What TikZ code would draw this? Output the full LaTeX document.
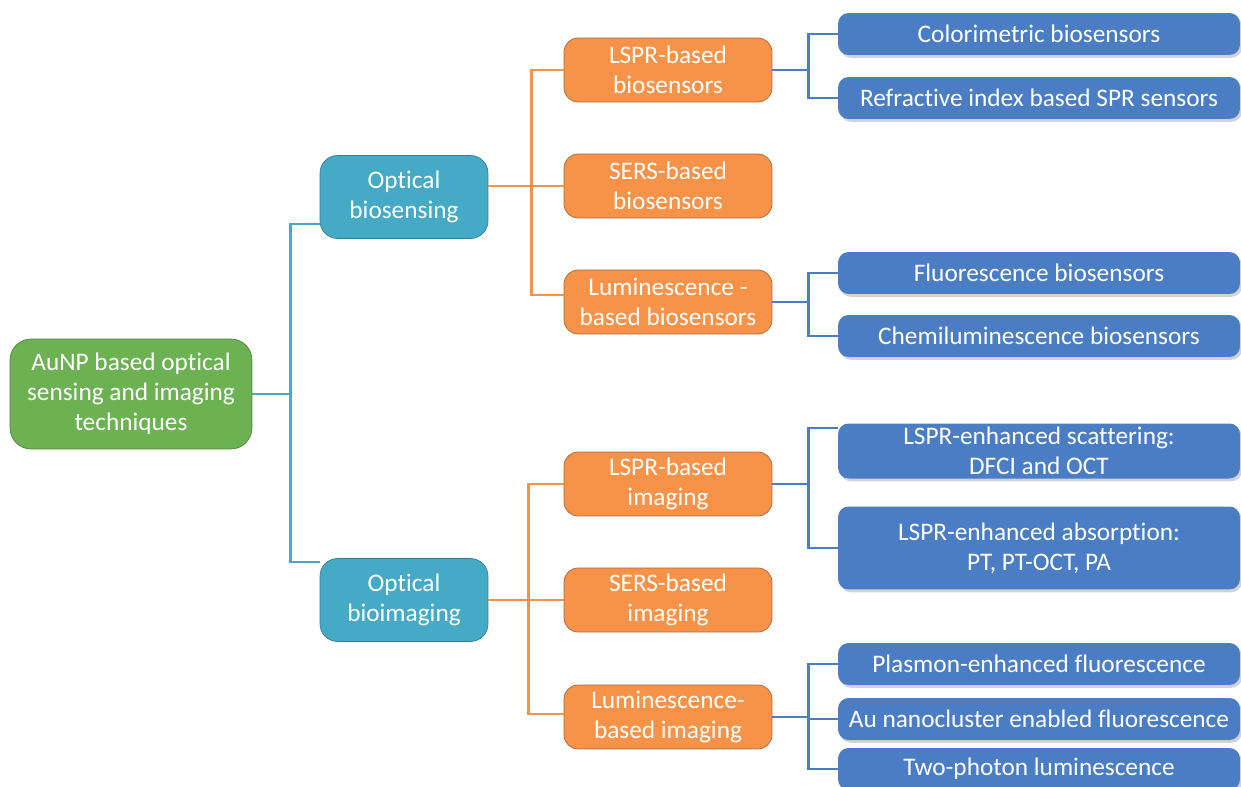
\documentclass[tikz,border=0pt]{standalone}
\usepackage{fontspec}
\setmainfont{Carlito}[Ligatures=NoCommon]
\usetikzlibrary{shadows}

\definecolor{rootgreen}{RGB}{108,177,82}
\definecolor{optcyan}{RGB}{68,170,198}
\definecolor{subor}{RGB}{246,147,73}
\definecolor{leafblue}{RGB}{74,125,196}

\tikzset{
  box/.style={text=white, align=center, inner sep=2pt, font=\fontsize{14.4}{17.2}\selectfont},
  rootbox/.style={box, fill=rootgreen, draw=rootgreen!75!black, rounded corners=12pt,
    minimum width=4.84cm, minimum height=2.2cm},
  optbox/.style={box, fill=optcyan, draw=optcyan!75!black, rounded corners=10pt,
    minimum width=3.36cm, minimum height=1.66cm},
  subbox/.style={box, fill=subor, draw=subor!70!black, rounded corners=8pt,
    minimum width=4.16cm, minimum height=1.28cm},
  leafbox/.style={box, fill=leafblue, rounded corners=6pt, minimum width=8.04cm,
    minimum height=0.84cm, drop shadow={shadow xshift=1.2pt, shadow yshift=-1.6pt, opacity=0.35}},
  lnC/.style={draw=optcyan, line width=1.5pt},
  lnO/.style={draw=subor, line width=1.5pt},
  lnB/.style={draw=leafblue, line width=1.5pt},
}

\begin{document}
\begin{tikzpicture}[x=0.02cm,y=-0.02cm]
\useasboundingbox (0,0) rectangle (1241,787);

\node[rootbox] (root) at (131,394) {AuNP based optical\\sensing and imaging\\techniques};

\node[optbox] (bsens) at (404,197) {Optical\\biosensing};
\node[optbox] (bimag) at (404,600) {Optical\\bioimaging};

\node[subbox] (lsprS) at (668,70) {LSPR-based\\biosensors};
\node[subbox] (sersS) at (668,186) {SERS-based\\biosensors};
\node[subbox] (lumS) at (668,302) {Luminescence -\\based biosensors};
\node[subbox] (lsprI) at (668,484) {LSPR-based\\imaging};
\node[subbox] (sersI) at (668,600) {SERS-based\\imaging};
\node[subbox] (lumI) at (668,717) {Luminescence-\\based imaging};

\node[leafbox] (colo) at (1039,34) {Colorimetric biosensors};
\node[leafbox] (refr) at (1039,98) {Refractive index based SPR sensors};
\node[leafbox] (fluo) at (1039,273) {Fluorescence biosensors};
\node[leafbox] (chem) at (1039,336) {Chemiluminescence biosensors};
\node[leafbox, minimum height=1.1cm] (scat) at (1039,451) {LSPR-enhanced scattering:\\DFCI and OCT};
\node[leafbox, minimum height=1.66cm] (abso) at (1039,548) {LSPR-enhanced absorption:\\PT, PT-OCT, PA};
\node[leafbox] (plas) at (1039,664) {Plasmon-enhanced fluorescence};
\node[leafbox] (nano) at (1039,719) {Au nanocluster enabled fluorescence};
\node[leafbox] (twop) at (1039,769) {Two-photon luminescence};

% root to optical branches
\draw[lnC] (root.east) -- ++(38,0) coordinate (cj);
\draw[lnC] ([shift={(0,27)}]bsens.west) -| (cj) |- ([shift={(0,-38)}]bimag.west);

% optical to sub-branches
\draw[lnO] ([shift={(0,-11)}]bsens.east) -- ++(43,0) coordinate (oj1);
\draw[lnO] (lsprS.west) -| (oj1) |- ([shift={(0,-7)}]lumS.west);
\draw[lnO] (oj1) -- (sersS.west);
\draw[lnO] (bimag.east) -- ++(40,0) coordinate (oj2);
\draw[lnO] (lsprI.west) -| (oj2) |- ([shift={(0,-3)}]lumI.west);
\draw[lnO] (oj2) -- (sersI.west);

% sub-branches to leaves
\draw[lnB] (lsprS.east) -- ++(36,0) coordinate (bj1);
\draw[lnB] (colo.west) -| (bj1) |- (refr.west);
\draw[lnB] (lumS.east) -- ++(36,0) coordinate (bj2);
\draw[lnB] (fluo.west) -| (bj2) |- (chem.west);
\draw[lnB] (lsprI.east) -- ++(36,0) coordinate (bj3);
\draw[lnB] ([shift={(0,-23)}]scat.west) -| (bj3) |- (abso.west);
\draw[lnB] (lumI.east) -- ++(36,0) coordinate (bj4);
\draw[lnB] (plas.west) -| (bj4) |- (twop.west);
\draw[lnB] (bj4) -- (nano.west -| bj4) -- (nano.west);
\end{tikzpicture}
\end{document}
